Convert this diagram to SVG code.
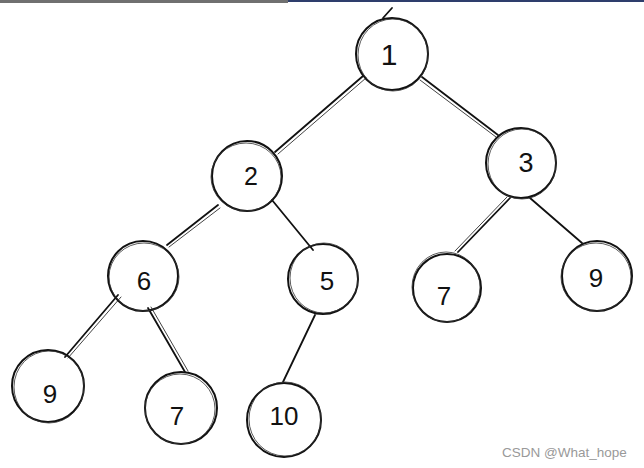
<svg xmlns="http://www.w3.org/2000/svg" width="644" height="468" viewBox="0 0 644 468">
<style>
.c{fill:none;stroke:#111;stroke-width:2}
.c2{fill:none;stroke:#333;stroke-width:1;opacity:.8}
.e{stroke:#111;stroke-width:1.8;fill:none;stroke-linecap:round}
.e2{stroke:#444;stroke-width:1;fill:none;stroke-linecap:round}
.t{font-family:"Liberation Sans",Arial,sans-serif;font-size:26px;fill:#111;text-anchor:middle}
.w{font-family:"Liberation Sans",Arial,sans-serif;font-size:13.5px;fill:#999}
</style>
<rect x="0" y="0" width="644" height="468" fill="#fff"/>
<rect x="0" y="0" width="288" height="3" fill="#707070"/>
<rect x="288" y="0" width="356" height="2" fill="#2e3e6c"/>
<g id="connectors">
<line class="e" x1="363" y1="76" x2="275" y2="152"/><line class="e2" x1="366" y1="78" x2="278" y2="154"/>
<line class="e" x1="422" y1="77" x2="498" y2="135"/><line class="e2" x1="420" y1="80" x2="496" y2="137"/>
<line class="e" x1="218" y1="205" x2="167" y2="245"/><line class="e2" x1="220" y1="208" x2="169" y2="247"/>
<line class="e" x1="272" y1="200" x2="313" y2="250"/>
<line class="e" x1="510" y1="198" x2="458" y2="252"/><line class="e2" x1="507" y1="197" x2="455" y2="251"/>
<line class="e" x1="530" y1="198" x2="582" y2="243"/>
<line class="e" x1="118" y1="295" x2="65" y2="357"/><line class="e2" x1="121" y1="297" x2="68" y2="358"/>
<line class="e" x1="148" y1="308" x2="185" y2="372"/><line class="e2" x1="151" y1="307" x2="188" y2="371"/>
<line class="e" x1="315" y1="315" x2="283" y2="382"/>
</g>
<g id="n1"><circle class="c" cx="392" cy="54" r="36"/><ellipse class="c2" cx="393" cy="55" rx="35" ry="36"/><line class="e" x1="392" y1="8" x2="383" y2="18"/><text class="t" x="389" y="65" style="font-size:30px">1</text></g>
<g id="n2"><circle class="c" cx="247" cy="176" r="35"/><ellipse class="c2" cx="246" cy="177" rx="35" ry="34"/><text class="t" x="251" y="185" style="font-size:25px">2</text></g>
<g id="n3"><circle class="c" cx="521" cy="163" r="35"/><ellipse class="c2" cx="522" cy="164" rx="34" ry="35"/><text class="t" x="526" y="172" style="font-size:27px">3</text></g>
<g id="n6"><circle class="c" cx="143" cy="276" r="35"/><ellipse class="c2" cx="144" cy="277" rx="35" ry="34"/><text class="t" x="144" y="290">6</text></g>
<g id="n5"><circle class="c" cx="323" cy="279" r="35"/><ellipse class="c2" cx="324" cy="278" rx="34" ry="35"/><text class="t" x="327" y="290">5</text></g>
<g id="n7r"><circle class="c" cx="447" cy="288" r="34"/><ellipse class="c2" cx="446" cy="287" rx="34" ry="35"/><text class="t" x="444" y="305">7</text></g>
<g id="n9r"><circle class="c" cx="597" cy="276" r="35"/><ellipse class="c2" cx="596" cy="277" rx="35" ry="34"/><text class="t" x="596" y="287">9</text></g>
<g id="n9l"><circle class="c" cx="48" cy="386" r="36"/><ellipse class="c2" cx="49" cy="387" rx="35" ry="36"/><text class="t" x="50" y="403">9</text></g>
<g id="n7b"><circle class="c" cx="181" cy="408" r="36"/><ellipse class="c2" cx="180" cy="409" rx="35" ry="35"/><text class="t" x="177" y="425">7</text></g>
<g id="n10"><circle class="c" cx="284" cy="420" r="37"/><ellipse class="c2" cx="285" cy="419" rx="36" ry="37"/><text class="t" x="284" y="425">10</text></g>
<text class="w" x="502" y="457">CSDN @What_hope</text>
</svg>
